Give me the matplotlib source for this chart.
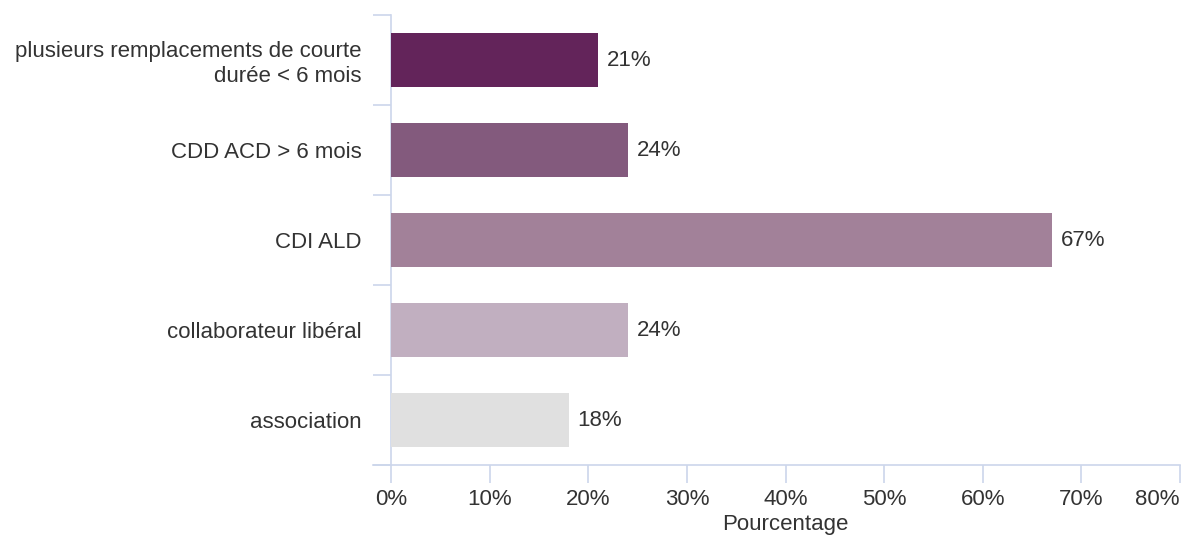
import matplotlib.pyplot as plt
from matplotlib.ticker import FuncFormatter, FixedLocator

plt.rcParams['font.family'] = ['Liberation Sans', 'DejaVu Sans']

# categories, top to bottom
categories = ['plusieurs remplacements de courte\ndurée < 6 mois',
              'CDD ACD > 6 mois',
              'CDI ALD',
              'collaborateur libéral',
              'association']
values = [21, 24, 67, 24, 18]
colors = ['#63245a', '#835a7d', '#a28199', '#c1afc0', '#e0e0e0']
x_ticks = [0, 10, 20, 30, 40, 50, 60, 70, 80]

axis_col = '#ccd6eb'
text_col = '#333333'
fs = 16

fig = plt.figure(figsize=(11.81, 5.41), dpi=100)
ax = fig.add_axes([391 / 1181, 1 - 465 / 541, (1180 - 391) / 1181, 450 / 541])

ypos = list(range(len(categories)))
ax.barh(ypos, values, height=0.6, color=colors, zorder=3)
for y, v in zip(ypos, values):
    ax.text(v + 0.9, y, f'{v}%', va='center', ha='left', fontsize=fs, color=text_col)

ax.set_xlim(0, 80)
ax.set_ylim(len(categories) - 0.5, -0.5)

# category labels sit between separator ticks
ax.set_yticks(ypos)
ax.set_yticklabels(categories, fontsize=fs, color=text_col, ha='right', linespacing=1.25)
ax.tick_params(axis='y', length=0, pad=21)
ax.yaxis.set_minor_locator(FixedLocator([i - 0.5 for i in range(len(categories) + 1)]))
ax.tick_params(axis='y', which='minor', length=13, width=1.2, color=axis_col, direction='out')

ax.set_xticks(x_ticks)
ax.xaxis.set_major_formatter(FuncFormatter(lambda v, p: f'{v:.0f}%'))
ax.tick_params(axis='x', length=13, width=1.2, color=axis_col, labelsize=fs,
               labelcolor=text_col, pad=4)
ax.get_xticklabels()[-1].set_horizontalalignment('right')
ax.set_xlabel('Pourcentage', fontsize=fs, color=text_col, labelpad=3)

for side in ['top', 'right']:
    ax.spines[side].set_visible(False)
for side in ['left', 'bottom']:
    ax.spines[side].set_color(axis_col)
    ax.spines[side].set_linewidth(1.2)
ax.spines['bottom'].set_bounds(-1.85, 80)

fig.savefig('out.png', dpi=100)
